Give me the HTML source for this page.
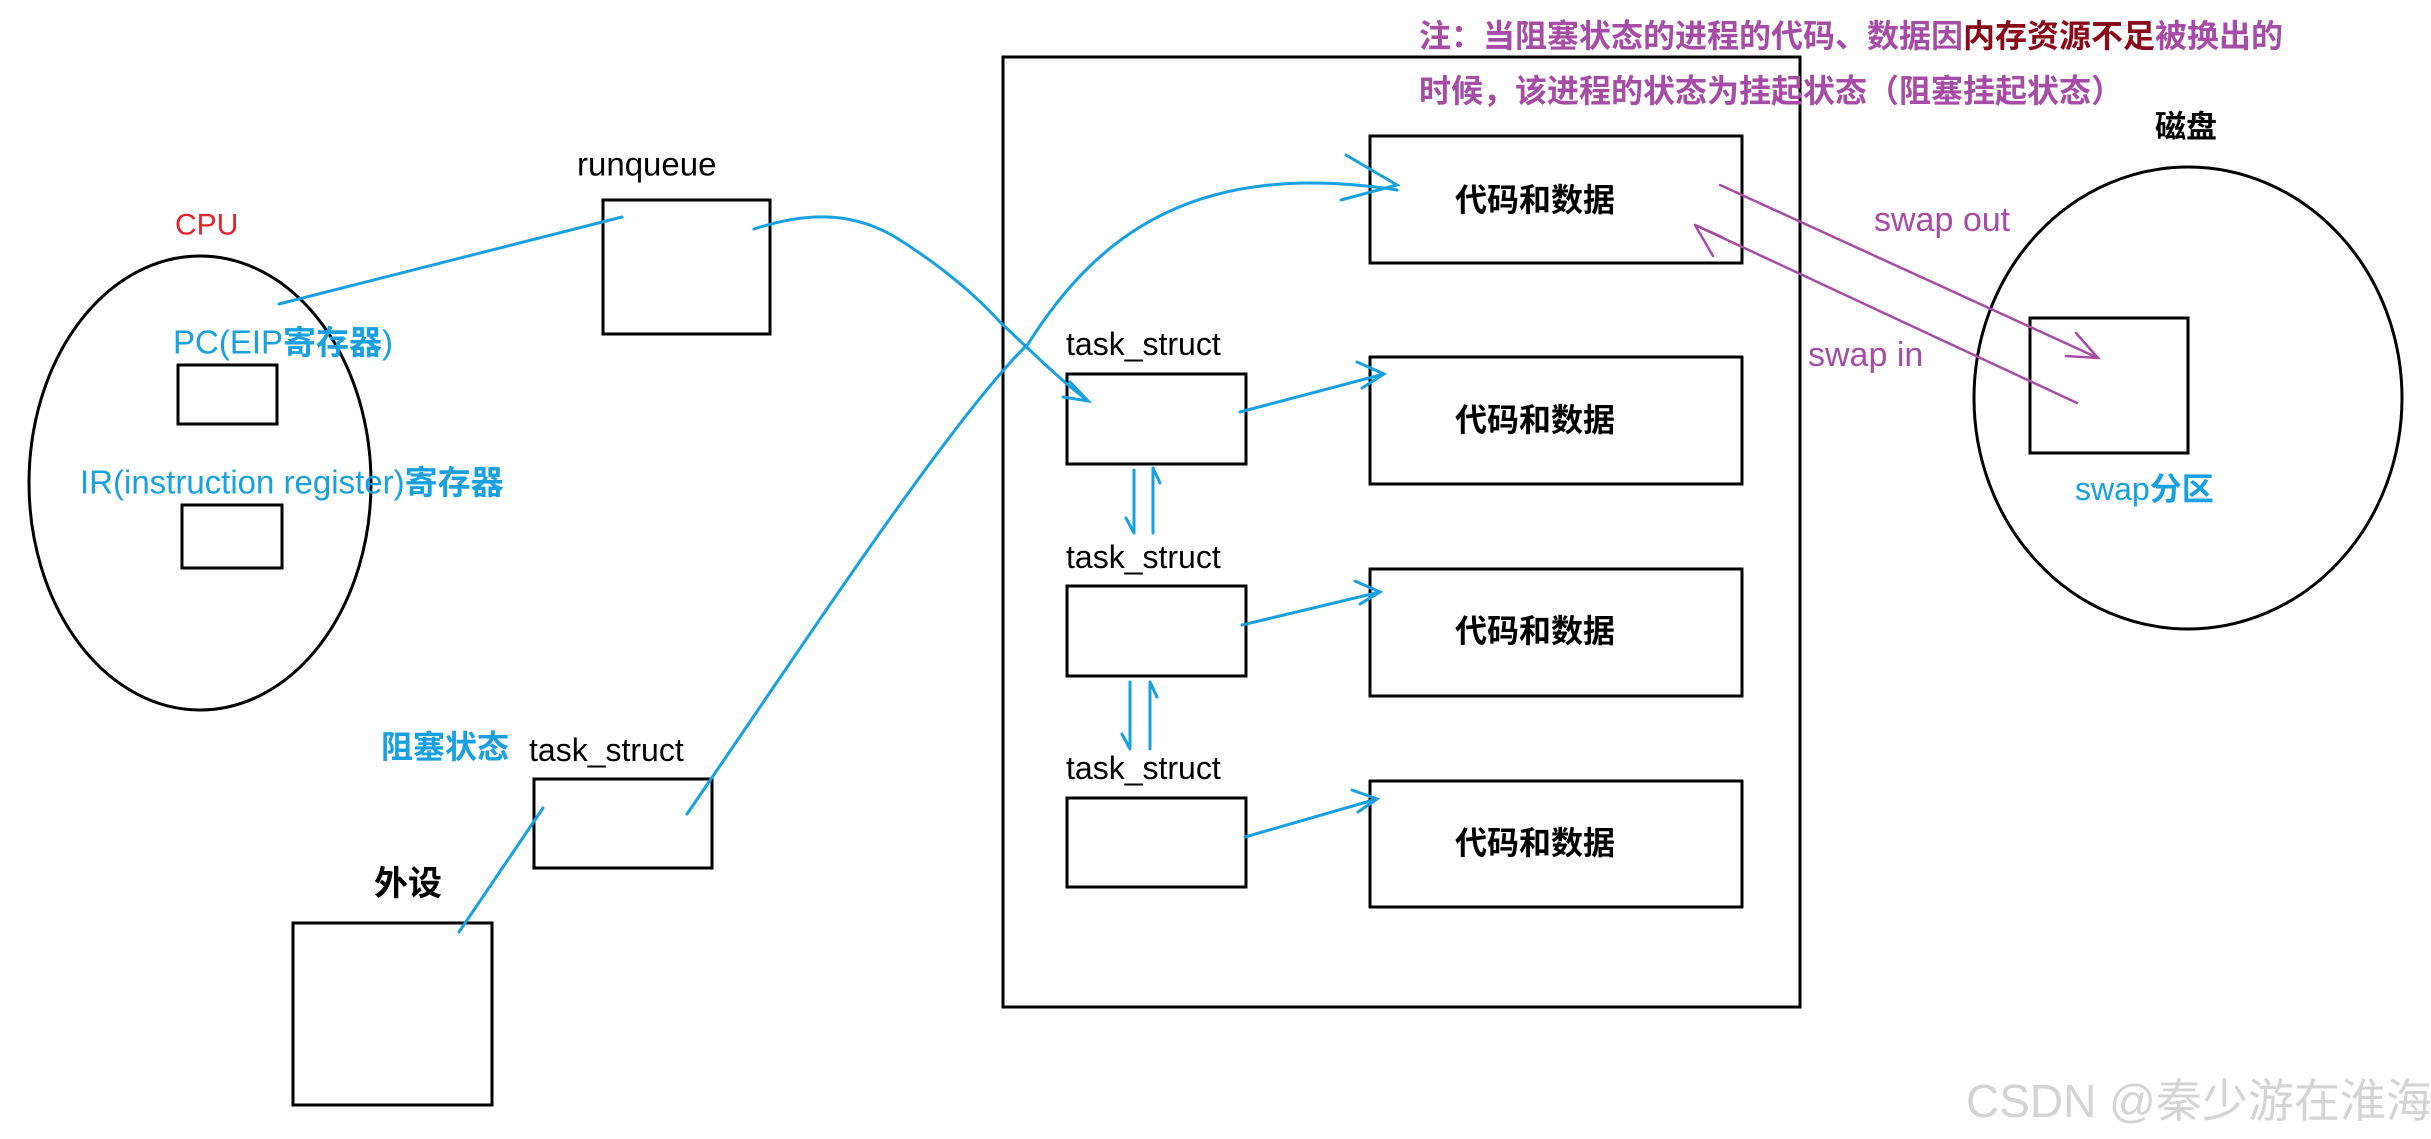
<!DOCTYPE html>
<html><head><meta charset="utf-8"><style>
html,body{margin:0;padding:0;background:#fff;}
svg{display:block;}
text{font-family:"Liberation Sans","Noto Sans CJK SC",sans-serif;dominant-baseline:central;}
</style></head><body>
<svg width="2431" height="1139" viewBox="0 0 2431 1139" xmlns="http://www.w3.org/2000/svg">
<g fill="none" stroke="#000" stroke-width="3">
<ellipse cx="200" cy="483" rx="171" ry="227"/>
<rect x="178" y="365" width="99" height="59"/>
<rect x="182" y="505" width="100" height="63"/>
<rect x="603" y="200" width="167" height="134"/>
<rect x="534" y="779" width="178" height="89"/>
<rect x="293" y="923" width="199" height="182"/>
<rect x="1003" y="57" width="797" height="950"/>
<rect x="1370" y="136" width="372" height="127"/>
<rect x="1370" y="357" width="372" height="127"/>
<rect x="1370" y="569" width="372" height="127"/>
<rect x="1370" y="781" width="372" height="126"/>
<rect x="1067" y="374" width="179" height="90"/>
<rect x="1067" y="586" width="179" height="90"/>
<rect x="1067" y="798" width="179" height="89"/>
<ellipse cx="2188" cy="398" rx="214" ry="231"/>
<rect x="2030" y="318" width="158" height="135"/>
</g>
<g fill="none" stroke="#18a0e0" stroke-width="3" stroke-linecap="round">
<path d="M279 304 L622 217"/>
<path d="M754 229 C800 214 850 208 900 240 C950 272 980 300 1000 322 C1030 350 1060 380 1087 400"/>
<path d="M1070 382 L1088 401 L1063 397"/>
<path d="M687 814 C800 650 950 420 1028 344 C1100 230 1200 160 1397 190"/>
<path d="M1346 155 L1397 185 L1341 200"/>
<path d="M459 932 L543 808"/>
<path d="M1240 412 L1384 374 M1357 362 L1384 374 L1362 388"/>
<path d="M1242 625 L1380 592 M1355 581 L1380 592 L1360 604"/>
<path d="M1245 837 L1377 799 M1352 790 L1377 799 L1358 812"/>
<path d="M1134 470 L1134 533 M1126 518 L1134 533"/>
<path d="M1153 533 L1153 468 M1153 468 L1160 483"/>
<path d="M1130 682 L1130 749 M1122 734 L1130 749"/>
<path d="M1150 749 L1150 682 M1150 682 L1157 697"/>
</g>
<g fill="none" stroke="#a64ca6" stroke-width="2.5" stroke-linecap="round">
<path d="M1720 185 L2098 358 M2076 333 L2098 358 L2066 356"/>
<path d="M2077 403 L1695 225 M1695 225 L1722 237 M1695 225 L1713 256"/>
</g>
<text x="175" y="225" font-size="30" fill="#e8202a">CPU</text>
<text x="173" y="342" font-size="33" fill="#18a0e0">PC(EIP<tspan font-weight="bold">寄存器</tspan>)</text>
<text x="80" y="482" font-size="33" fill="#18a0e0">IR(instruction register)<tspan font-weight="bold">寄存器</tspan></text>
<text x="577" y="164" font-size="33" fill="#000">runqueue</text>
<text x="381" y="747" font-size="32" font-weight="bold" fill="#18a0e0">阻塞状态</text>
<text x="529" y="750" font-size="32" fill="#000">task_struct</text>
<text x="374" y="884" font-size="34" font-weight="bold" fill="#000">外设</text>
<g font-size="32" fill="#000">
<text x="1066" y="344">task_struct</text>
<text x="1066" y="557">task_struct</text>
<text x="1066" y="768">task_struct</text>
</g>
<g font-size="32" font-weight="bold" fill="#000" text-anchor="middle">
<text x="1535" y="200">代码和数据</text>
<text x="1535" y="420">代码和数据</text>
<text x="1535" y="631">代码和数据</text>
<text x="1535" y="843">代码和数据</text>
</g>
<text x="1419" y="36" font-size="32" font-weight="bold" fill="#a64ca6">注：当阻塞状态的进程的代码、数据因<tspan fill="#8b0a1a">内存资源不足</tspan>被换出的</text>
<text x="1419" y="91" font-size="32" font-weight="bold" fill="#a64ca6">时候，该进程的状态为挂起状态（阻塞挂起状态）</text>
<text x="2155" y="127" font-size="31" font-weight="bold" fill="#000">磁盘</text>
<text x="1874" y="220" font-size="34" fill="#a64ca6">swap out</text>
<text x="1808" y="355" font-size="34" fill="#a64ca6">swap in</text>
<text x="2075" y="489" font-size="32" fill="#18a0e0">swap<tspan font-weight="bold">分区</tspan></text>
<text x="1966" y="1101" font-size="46" fill="#d4d4d4">CSDN @秦少游在淮海</text>
</svg>
</body></html>
